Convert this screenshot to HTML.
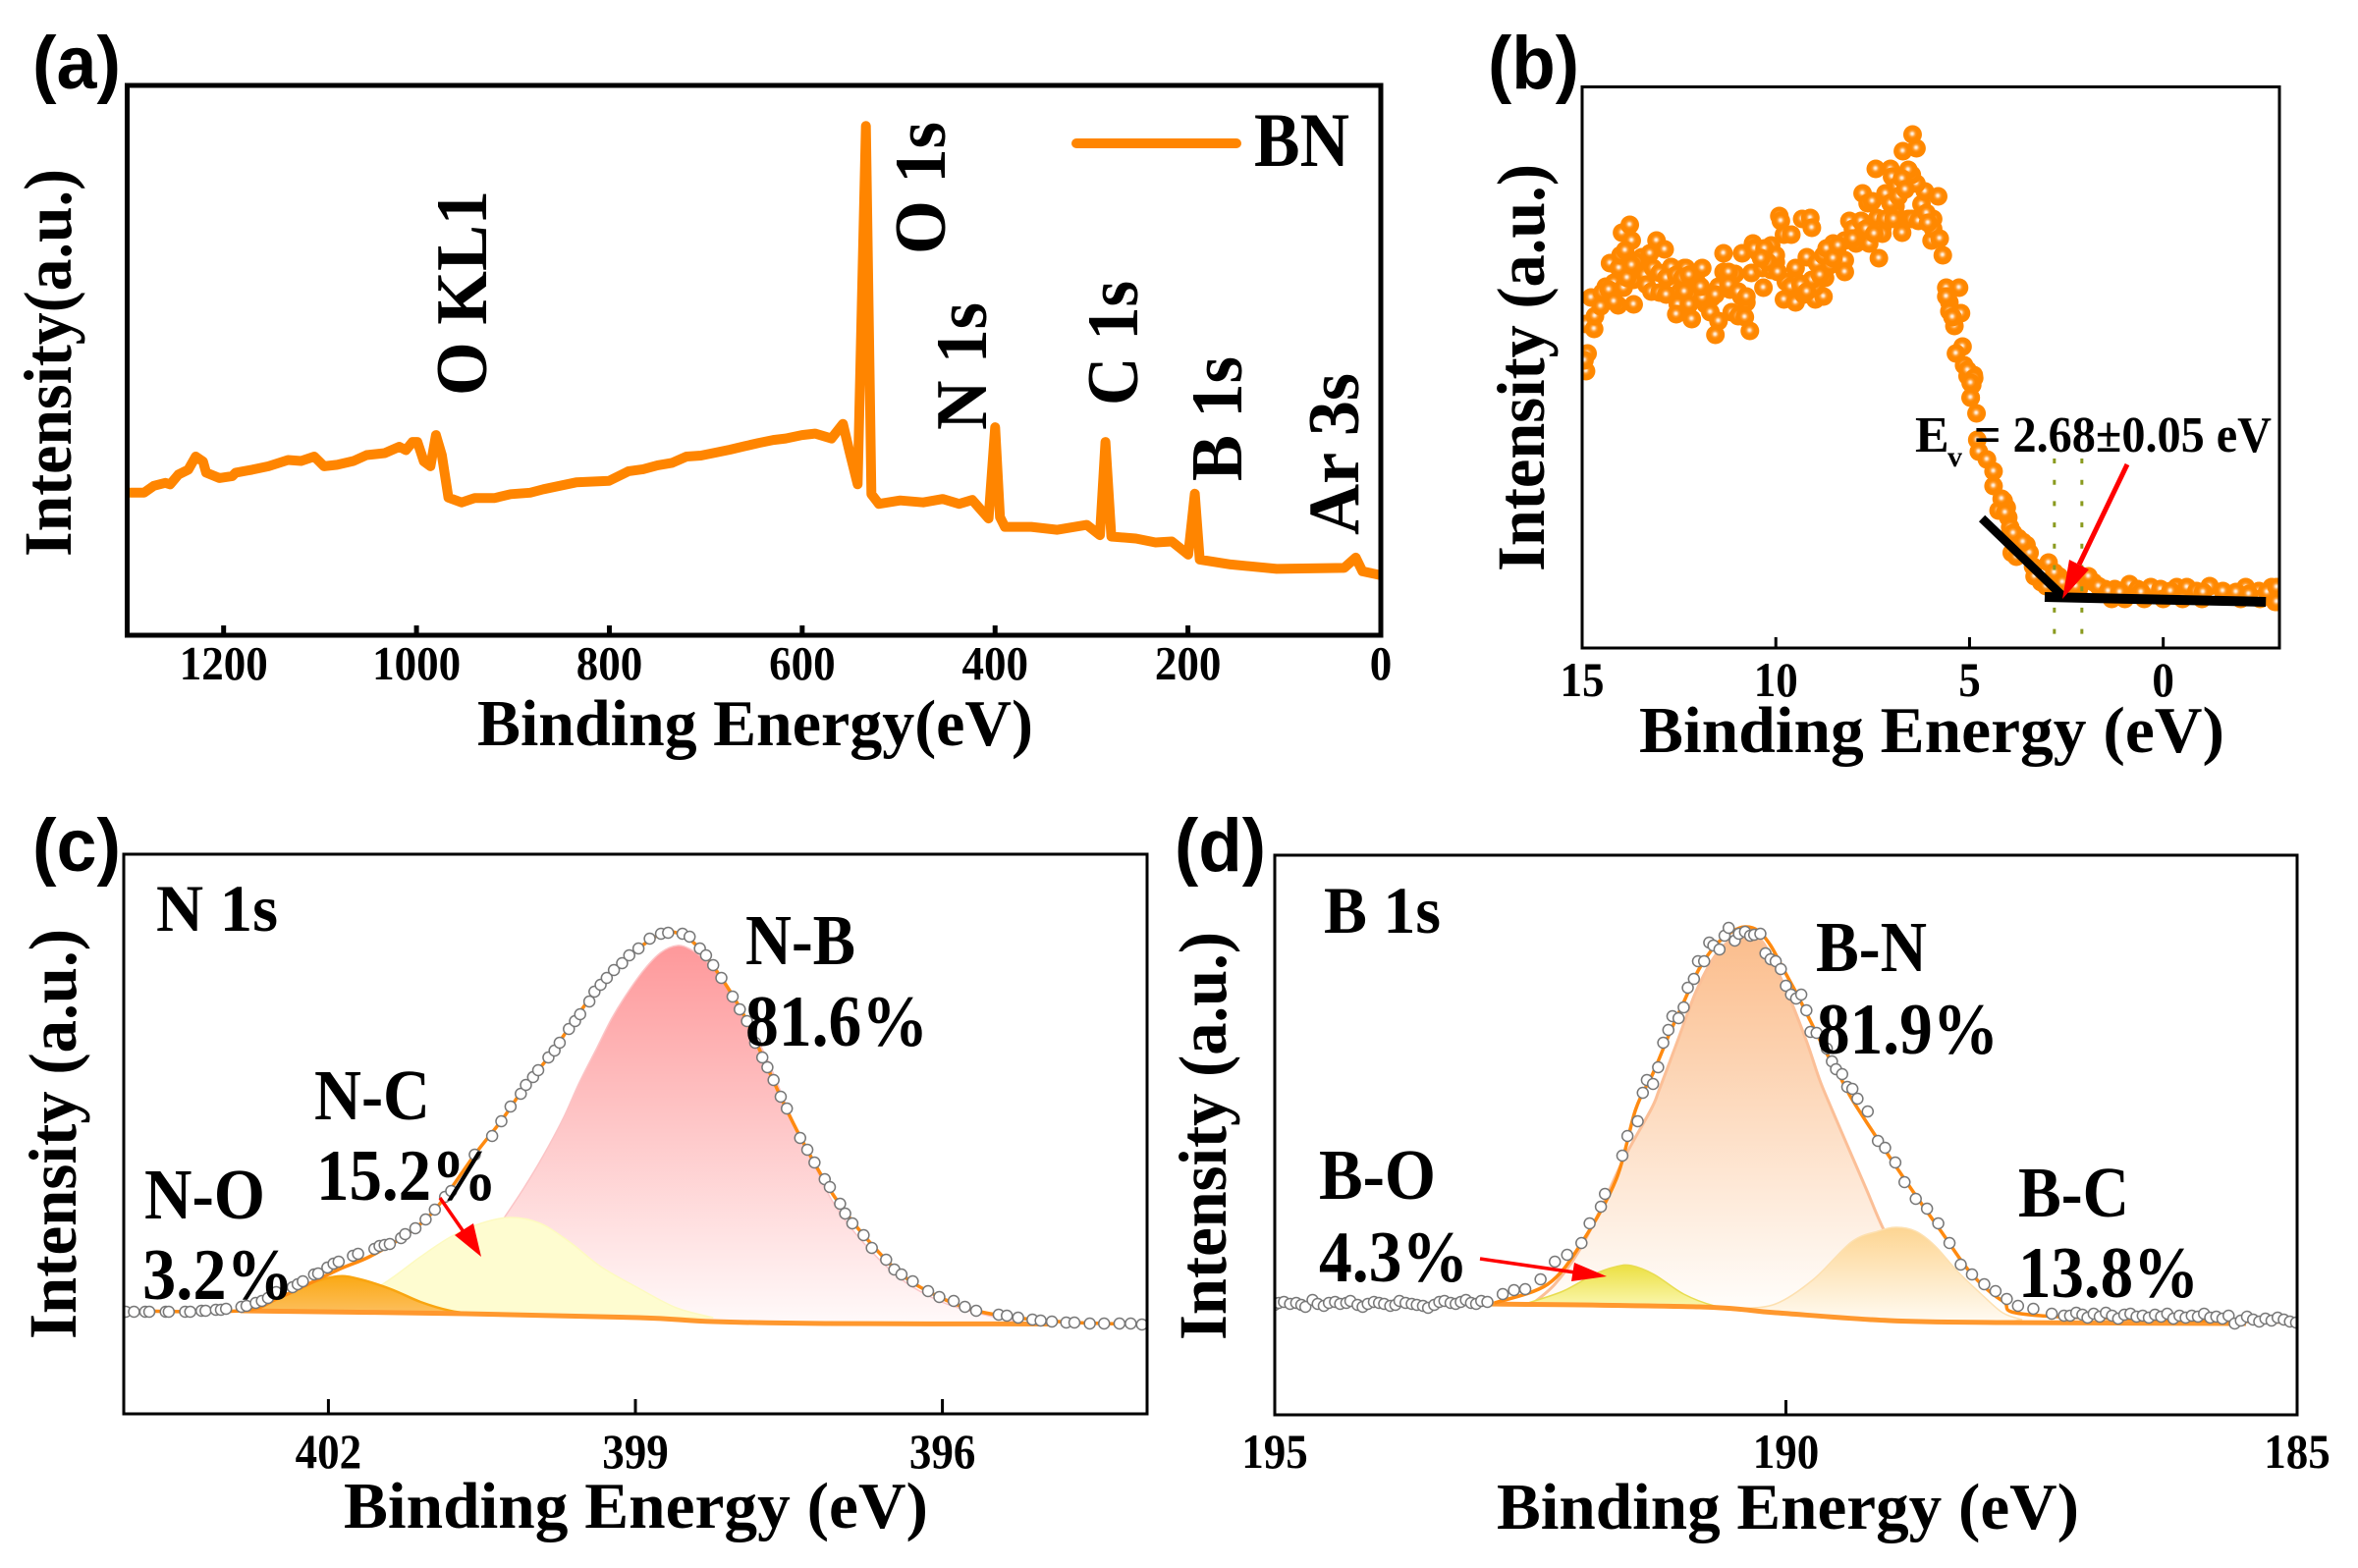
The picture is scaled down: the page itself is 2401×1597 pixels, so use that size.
<!DOCTYPE html>
<html>
<head>
<meta charset="utf-8">
<title>BN XPS spectra</title>
<style>
html,body{margin:0;padding:0;background:#fff;}
svg{display:block;}
.serif{font-family:"Liberation Serif","Noto Serif CJK SC",serif;font-weight:bold;fill:#000;}
.sans{font-family:"Liberation Sans","Noto Sans CJK SC",sans-serif;font-weight:bold;fill:#000;}
</style>
</head>
<body>
<svg id="chart" xmlns="http://www.w3.org/2000/svg" width="2401" height="1597" viewBox="0 0 2401 1597">
<defs>
  <clipPath id="clip-a"><rect x="129.5" y="87" width="1276.5" height="560"/></clipPath>
  <clipPath id="clip-b"><rect x="1611" y="88" width="710" height="572"/></clipPath>
  <clipPath id="clip-c"><rect x="126" y="870" width="1042" height="570"/></clipPath>
  <clipPath id="clip-d"><rect x="1298" y="871" width="1041" height="570"/></clipPath>
  <radialGradient id="dot-fill" cx="0.48" cy="0.46" r="0.52">
    <stop offset="0" stop-color="#fff6ec"/><stop offset="0.1" stop-color="#ffead4"/>
    <stop offset="0.32" stop-color="#ff9a2a"/><stop offset="0.5" stop-color="#ff8800"/><stop offset="1" stop-color="#ff8800"/>
  </radialGradient>
  <linearGradient id="grad-nb" gradientUnits="userSpaceOnUse" x1="0" y1="970" x2="0" y2="1350">
    <stop offset="0" stop-color="#fe9a9c"/><stop offset="1" stop-color="#fffafa"/>
  </linearGradient>
  <linearGradient id="grad-no" gradientUnits="userSpaceOnUse" x1="0" y1="1300" x2="0" y2="1340">
    <stop offset="0" stop-color="#fba915"/><stop offset="1" stop-color="#fcc062"/>
  </linearGradient>
  <linearGradient id="grad-bn" gradientUnits="userSpaceOnUse" x1="0" y1="952" x2="0" y2="1330">
    <stop offset="0" stop-color="#fbbd8c"/><stop offset="1" stop-color="#fffdfa"/>
  </linearGradient>
  <linearGradient id="grad-bc" gradientUnits="userSpaceOnUse" x1="0" y1="1250" x2="0" y2="1345">
    <stop offset="0" stop-color="#fdd592"/><stop offset="1" stop-color="#fffaf0"/>
  </linearGradient>
  <linearGradient id="grad-bo" gradientUnits="userSpaceOnUse" x1="0" y1="1289" x2="0" y2="1333">
    <stop offset="0" stop-color="#ece044"/><stop offset="1" stop-color="#fbf8b4"/>
  </linearGradient>
</defs>

<g id="panel-a"></g>
<g id="panel-b"></g>
<g id="panel-c"></g>
<g id="panel-d"></g>

<!-- panel letters -->
<text class="sans" x="33" y="90" font-size="76" textLength="90" lengthAdjust="spacingAndGlyphs">(a)</text>
<text class="sans" x="1515" y="90" font-size="76" textLength="93" lengthAdjust="spacingAndGlyphs">(b)</text>
<text class="sans" x="33" y="887" font-size="76" textLength="90" lengthAdjust="spacingAndGlyphs">(c)</text>
<text class="sans" x="1196" y="887" font-size="76" textLength="93" lengthAdjust="spacingAndGlyphs">(d)</text>

<!-- y axis titles -->
<text class="serif" transform="translate(72,567) rotate(-90)" font-size="69" textLength="395" lengthAdjust="spacingAndGlyphs">Intensity(a.u.)</text>
<text class="serif" transform="translate(1572,582) rotate(-90)" font-size="69" textLength="415" lengthAdjust="spacingAndGlyphs">Intensity (a.u.)</text>
<text class="serif" transform="translate(77,1364) rotate(-90)" font-size="69" textLength="418" lengthAdjust="spacingAndGlyphs">Intensity (a.u.)</text>
<text class="serif" transform="translate(1248,1365) rotate(-90)" font-size="69" textLength="416" lengthAdjust="spacingAndGlyphs">Intensity (a.u.)</text>

<!-- x axis titles -->
<text class="serif" x="486" y="759" font-size="67" textLength="566" lengthAdjust="spacingAndGlyphs">Binding Energy(eV)</text>
<text class="serif" x="1669" y="766" font-size="67" textLength="596" lengthAdjust="spacingAndGlyphs">Binding Energy (eV)</text>
<text class="serif" x="350" y="1556" font-size="67" textLength="595" lengthAdjust="spacingAndGlyphs">Binding Energy (eV)</text>
<text class="serif" x="1524" y="1557" font-size="67" textLength="593" lengthAdjust="spacingAndGlyphs">Binding Energy (eV)</text>

<!-- panel a annotations -->
<text class="serif" transform="translate(495,403) rotate(-90)" font-size="74" textLength="209" lengthAdjust="spacingAndGlyphs">O KL1</text>
<text class="serif" transform="translate(962,259) rotate(-90)" font-size="74" textLength="135" lengthAdjust="spacingAndGlyphs">O 1s</text>
<text class="serif" transform="translate(1004,438) rotate(-90)" font-size="74" textLength="130" lengthAdjust="spacingAndGlyphs">N 1s</text>
<text class="serif" transform="translate(1158,413) rotate(-90)" font-size="74" textLength="127" lengthAdjust="spacingAndGlyphs">C 1s</text>
<text class="serif" transform="translate(1264,490) rotate(-90)" font-size="74" textLength="127" lengthAdjust="spacingAndGlyphs">B 1s</text>
<text class="serif" transform="translate(1383,545) rotate(-90)" font-size="74" textLength="165" lengthAdjust="spacingAndGlyphs">Ar 3s</text>
<line x1="1096" y1="146" x2="1259" y2="146" stroke="#ff8500" stroke-width="10" stroke-linecap="round"/>
<text class="serif" x="1277" y="169" font-size="78" textLength="97" lengthAdjust="spacingAndGlyphs">BN</text>

<!-- panel b annotation -->
<text class="serif" x="1950" y="460" font-size="52">E</text>
<text class="serif" x="1983" y="475" font-size="30">v</text>
<text class="serif" x="2010" y="460" font-size="52" textLength="303" lengthAdjust="spacingAndGlyphs">= 2.68±0.05 eV</text>

<!-- panel c labels -->
<text class="serif" x="159" y="948" font-size="68" textLength="124" lengthAdjust="spacingAndGlyphs">N 1s</text>
<text class="serif" x="759" y="982" font-size="73" textLength="112" lengthAdjust="spacingAndGlyphs">N-B</text>
<text class="serif" x="759" y="1065" font-size="74" textLength="186" lengthAdjust="spacingAndGlyphs">81.6%</text>
<text class="serif" x="320" y="1140" font-size="73" textLength="118" lengthAdjust="spacingAndGlyphs">N-C</text>
<text class="serif" x="322" y="1222" font-size="74" textLength="184" lengthAdjust="spacingAndGlyphs">15.2%</text>
<text class="serif" x="147" y="1241" font-size="73" textLength="123" lengthAdjust="spacingAndGlyphs">N-O</text>
<text class="serif" x="145" y="1323" font-size="74" textLength="154" lengthAdjust="spacingAndGlyphs">3.2%</text>

<!-- panel d labels -->
<text class="serif" x="1348" y="950" font-size="68" textLength="119" lengthAdjust="spacingAndGlyphs">B 1s</text>
<text class="serif" x="1849" y="989" font-size="73" textLength="113" lengthAdjust="spacingAndGlyphs">B-N</text>
<text class="serif" x="1850" y="1073" font-size="74" textLength="185" lengthAdjust="spacingAndGlyphs">81.9%</text>
<text class="serif" x="1343" y="1221" font-size="73" textLength="119" lengthAdjust="spacingAndGlyphs">B-O</text>
<text class="serif" x="1343" y="1305" font-size="74" textLength="152" lengthAdjust="spacingAndGlyphs">4.3%</text>
<text class="serif" x="2055" y="1239" font-size="73" textLength="113" lengthAdjust="spacingAndGlyphs">B-C</text>
<text class="serif" x="2055" y="1321" font-size="74" textLength="184" lengthAdjust="spacingAndGlyphs">13.8%</text>

<!-- red arrows -->
<g>
  <line x1="2166" y1="473" x2="2117" y2="575" stroke="#ff0000" stroke-width="5"/>
  <polygon points="2100,610 2107,570 2127,580" fill="#ff0000"/>
</g>
<g>
  <line x1="448" y1="1220" x2="473" y2="1256" stroke="#ff0000" stroke-width="3.5"/>
  <polygon points="490,1280 463,1258 482,1246" fill="#ff0000"/>
</g>
<g>
  <line x1="1507" y1="1282" x2="1604" y2="1296" stroke="#ff0000" stroke-width="3.5"/>
  <polygon points="1636,1300 1600,1305 1603,1286" fill="#ff0000"/>
</g>
</svg>

<script>
/* ---------- Panel (a) survey spectrum ---------- */
const aEnergy = [1299.5,1282.6,1272.4,1260.5,1255.4,1246.9,1236.7,1228.9,1221.4,1218.1,1204.5,1190.9,1187.5,1170.5,1153.5,1133.2,1119.6,1106,1095.8,1082.3,1065.3,1051.7,1033,1017.8,1011,1004.2,999.1,992.3,985.5,979.8,973.7,966.9,953.3,939.7,919.3,902.4,882,868.4,851.5,834.5,800.5,780,765,750,735,720,705,690,675,660,645,630,617.2,600.2,586.7,569.7,557.8,551,542.5,534,528.3,520.5,498.4,474.6,454.3,437.3,423.7,406.8,399.9,394.9,389.8,362.6,335.5,304.9,291.3,285.6,279.5,254,233.6,216.7,199.7,192.9,187.8,155.6,108,38,26,19,0];
const aIntensity = [294,294,308,314,311,331,341,368,358,335,324,328,335,341,348,361,359,368,348,351,359,371,375,388,381,398,398,358,348,412,371,284,274,283,283,291,294,301,308,315,318,338,342,350,355,368,370,376,382,389,396,402,405,412,415,405,435,378,311,1045,291,271,278,274,281,271,279,241,428,244,224,224,218,228,207,398,204,200,192,194,167,292,157,147,138,140,161,133,125];
const aTicks = [1200,1000,800,600,400,200,0];

/* ---------- Panel (b) valence band ---------- */
const bEnergy = [
14.90,14.86,14.94,14.90,14.69,14.67,14.77,14.52,14.39,14.18,
14.28,14.05,13.93,14.07,13.67,13.97,13.77,13.72,14.01,13.89,
13.67,13.46,13.25,13.08,12.87,13.55,13.38,13.17,13.00,13.34,
13.21,13.00,12.70,12.70,12.36,12.32,11.90,12.03,12.49,12.53,
12.57,12.17,12.07,11.77,11.65,11.81,11.69,11.48,11.56,11.48,
11.18,11.35,11.05,11.22,11.35,10.87,10.89,10.76,11.14,10.97,
10.80,10.67,10.63,10.32,10.34,10.12,10.00,10.59,10.46,10.25,
10.12,10.00,9.91,9.87,9.79,9.60,9.32,9.11,9.07,9.74,
9.79,9.49,9.28,8.98,8.77,9.45,9.49,9.20,8.94,8.73,
8.98,9.07,8.52,8.60,8.22,8.39,8.22,8.22,8.60,8.10,
8.01,7.80,7.93,7.76,7.59,7.34,7.76,7.63,7.51,7.42,
7.38,7.25,7.25,7.17,7.04,7.00,6.87,6.91,6.91,6.74,
6.58,6.24,6.20,5.98,5.94,5.94,5.77,5.69,5.81,6.15,
6.37,6.49,6.58,6.72,6.37,6.47,5.60,5.27,5.52,5.52,
5.22,5.39,5.18,5.35,5.14,4.89,5.05,4.93,4.97,
14.48,14.31,14.18,13.84,13.59,13.72,12.83,12.57,12.41,12.24,
12.83,12.36,12.24,11.90,11.56,11.94,11.22,10.97,10.76,10.55,
10.29,10.21,9.95,10.38,9.62,9.36,9.20,8.86,8.77,8.69,
8.52,8.39,8.01,7.67,7.46,7.17,7.04,6.83,6.74,6.66,
6.96,6.49,6.32,6.11,6.07,5.60,5.44,5.05,
4.88,4.97,4.97,4.82,4.80,4.76,4.55,4.38,4.38,4.12,
4.04,4.25,4.00,3.95,3.74,3.53,3.91,3.45,3.36,3.15,
2.96,2.69,2.43,2.10,1.80,1.50,1.25,0.87,0.66,0.32,
0.07,-0.35,-0.61,-0.86,-1.20,-1.54,-2.13,-2.47,-2.80,-2.93,
1.33,0.99,0.49,2.18,-2.89,-2.50,-2.00,-1.00,0.00,-0.50,
4.17,4.08,3.87,3.62,3.79,3.32,3.02,2.81,2.60,2.26,
1.93,1.67,1.42,1.12,0.57,-0.19,-1.03,-1.88,-2.21,-2.68,
-2.93,-2.93];
const bIntensity = [
282,300,293,330,325,338,357,348,368,372,
392,387,367,349,350,423,431,415,400,405,
375,398,402,415,406,387,380,387,382,370,
363,362,368,388,387,387,387,372,362,350,
340,335,358,360,357,350,342,333,319,368,
365,383,381,383,402,402,358,352,342,338,
337,323,382,367,387,385,393,412,403,397,
410,400,440,435,421,421,437,438,428,373,
355,352,360,355,358,373,387,398,392,377,
368,375,412,403,415,400,395,383,390,435,
427,435,412,422,412,397,463,453,455,488,
438,428,422,463,488,480,470,450,442,423,
437,452,440,415,437,427,417,400,460,465,
473,482,487,506,509,523,367,367,352,343,
341,328,307,300,288,278,277,268,255,
362,365,353,377,393,390,377,380,377,380,
360,363,350,357,360,368,370,363,358,407,
407,393,383,397,368,370,363,380,400,407,
397,410,417,427,422,437,453,460,478,467,
437,437,435,443,433,358,337,283,
275,270,255,239,212,200,192,180,165,150,
143,140,133,123,112,105,97,97,83,67,
87,73,67,70,67,60,60,65,60,62,
60,62,62,58,63,58,62,58,62,53,
50,50,50,60,47,50,50,50,50,50,
152,138,117,108,93,73,63,77,67,63,
73,63,58,57,57,58,57,57,55,57,
62,47];
const bSlopeFitEnergy = [4.68,2.60];
const bSlopeFitIntensity = [132,53];
const bFlatFitEnergy = [3.06,-2.65];
const bFlatFitIntensity = [52,47];
const bGuideEnergy = [2.81,2.10];
const bTicks = [15,10,5,0];

/* ---------- Panel (c) N 1s ---------- */
const cDataEnergy = [
403.98,403.90,403.79,403.75,403.59,403.56,403.40,403.35,403.24,403.20,403.10,403.05,403.00,402.85,402.80,402.71,402.65,402.59,402.51,402.35,402.30,402.25,402.14,402.10,402.01,401.95,401.90,401.76,401.71,401.55,401.50,401.45,401.40,401.29,401.25,401.15,401.05,400.96,400.86,400.80,
400.57,400.40,400.31,400.22,400.12,400.07,400.00,399.95,399.85,399.79,399.74,399.65,399.59,399.54,399.45,399.40,399.34,399.28,399.21,399.13,399.06,398.97,398.86,398.75,398.68,398.54,398.47,398.37,398.31,398.24,398.16,398.05,397.98,397.91,397.83,397.76,397.71,397.65,397.58,397.52,397.39,397.32,397.25,397.15,397.10,397.00,396.95,396.88,396.77,396.69,396.55,396.47,396.40,396.29,396.14,396.03,395.89,395.78,395.67,395.45,395.37,395.26,395.12,395.04,394.93,394.79,394.71,394.56,394.42,394.27,394.16,394.05];
const cDataIntensity = [
104,104,104,104,104,104,104,104,105,105,106,106,107,109,110,113,115,118,124,129,132,135,142,143,149,153,155,161,163,168,171,172,173,179,183,189,198,208,221,227,
264,283,298,313,326,335,343,350,363,370,378,392,400,407,420,430,437,444,452,459,467,474,484,489,490,489,486,474,467,457,444,425,412,400,378,363,353,340,323,311,281,269,256,239,231,214,204,194,182,169,157,147,142,135,125,119,115,109,105,101,100,98,96,95,94,93,93,92,92,92,92,91];
const cFitEnergy = [404,402.86,402.49,402.2,401.9,401.6,401.29,401.05,400.86,400.57,400.3,400.07,399.85,399.63,399.41,399.19,398.97,398.75,398.6,398.4,398.16,397.94,397.72,397.5,397.28,397.06,396.77,396.4,396.03,395.67,395.2,394.7,394];
const cFitIntensity = [105,105,118,132,147,160,179,198,221,264,300,335,363,396,428,453,474,489,490,477,444,406,355,305,261,222,182,142,119,105,97,93,91];
const cBaseEnergy = [402.86,400.66,398.97,398.24,397.14,394.93];
const cBaseIntensity = [105,102,98,94,92,91.5];
const cNBEnergy = [400.28,400.09,399.90,399.71,399.55,399.39,399.23,399.07,398.91,398.75,398.59,398.46,398.33,398.16,397.94,397.72,397.50,397.28,397.06,396.77,396.40,396.03,395.67,395.23];
const cNBIntensity = [200,230,263,300,337,370,403,430,453,470,477,473,463,445,407,363,308,259,214,174,137,115,103,93];
const cNCEnergy = [401.98,401.47,401.10,400.81,400.51,400.22,399.93,399.63,399.34,398.97,398.60,398.24];
const cNCIntensity = [103,132,160,180,194,200,194,174,150,128,108,98];
const cNOEnergy = [402.86,402.49,402.20,401.91,401.69,401.39,401.10,400.81,400.59];
const cNOIntensity = [104,117,132,140,137,127,114,105,102];
const cTicks = [402,399,396];

/* ---------- Panel (d) B 1s ---------- */
const dDataEnergy = [
195.00,194.96,194.91,194.85,194.79,194.74,194.70,194.63,194.58,194.52,194.47,194.41,194.36,194.30,194.26,194.19,194.14,194.09,194.03,193.98,193.93,193.87,193.82,193.78,193.72,193.66,193.61,193.55,193.50,193.44,193.39,193.34,193.28,193.23,193.18,193.13,193.08,193.03,192.98,
192.92,192.77,192.66,192.55,192.40,192.26,192.14,192.00,191.92,191.81,191.77,191.60,191.55,191.45,
191.40,191.36,191.30,191.25,191.20,191.15,191.11,191.05,191.00,190.96,190.90,190.86,190.80,190.75,190.71,190.65,190.60,190.56,190.50,190.46,190.40,190.35,190.31,190.25,190.20,190.15,190.10,190.05,190.00,189.95,189.90,189.85,189.80,189.76,189.70,189.60,189.55,189.51,189.45,189.40,189.35,189.30,189.20,
189.10,189.03,188.93,188.84,188.73,188.62,188.51,188.40,188.29,188.18,188.06,187.95,187.84,187.73,187.58,187.40,187.28,
187.22,187.16,187.10,187.05,186.99,186.93,186.87,186.81,186.75,186.69,186.63,186.57,186.51,186.45,186.39,186.33,186.27,186.21,186.15,186.09,186.03,185.97,185.91,185.85,185.79,185.73,185.67,185.61,185.55,185.49,185.43,185.37,185.31,185.25,185.19,185.13,185.07,185.01];
const dDataIntensity = [
112,114,115,113,114,112,110,117,113,111,114,115,113,114,116,112,110,113,115,114,113,111,112,116,114,113,112,111,109,112,115,116,114,113,115,117,114,113,116,
115,123,127,128,138,156,163,175,195,212,225,264,284,299,
328,341,337,354,379,392,406,404,415,435,444,462,462,481,478,474,488,496,483,490,492,488,489,490,470,464,462,454,437,428,424,428,412,390,389,373,360,352,347,334,332,322,309,
279,272,257,237,220,210,195,175,153,143,133,126,118,111,108,103,101,
101,104,102,99,103,100,104,101,98,102,103,100,101,99,102,100,103,98,101,99,101,100,103,99,100,98,101,93,96,100,97,95,98,96,99,97,95,94];
const dFitEnergy = [192.85,192.33,192.00,191.66,191.47,191.30,191.14,191.01,190.85,190.69,190.53,190.40,190.27,190.15,190.02,189.89,189.76,189.60,189.47,189.31,188.84,188.47,188.18,187.88,187.51,185];
const dFitIntensity = [114,133,175,240,311,348,388,418,454,478,492,497,493,478,453,428,401,368,344,314,240,185,143,116,101,94];
const dBaseEnergy = [192.92,190.85,190.10,188.99,187.88,185.5];
const dBaseIntensity = [113,110,104,96,94,93];
const dBNEnergy = [192.48,192.26,192.03,191.81,191.59,191.32,191.24,191.07,190.88,190.69,190.53,190.40,190.24,190.11,189.95,189.79,189.67,189.55,189.36,189.21,189.05,188.84,188.62,188.25];
const dBNIntensity = [113,133,166,210,260,311,331,378,431,468,484,489,483,458,421,378,341,311,265,229,190,151,121,101];
const dBCEnergy = [190.47,190.10,189.73,189.36,189.10,188.92,188.73,188.55,188.32,188.10,187.88,187.69];
const dBCIntensity = [108,113,138,176,187,191,187,173,146,124,104,97];
const dBOEnergy = [192.55,192.18,191.88,191.66,191.51,191.29,191.00,190.70,190.47];
const dBOIntensity = [113,126,143,151,152,143,123,111,108];
const dTicks = [195,190,185];

/* ---------- helpers ---------- */
const NS = 'http://www.w3.org/2000/svg';
function make(tag, attrs, parent) {
  const node = document.createElementNS(NS, tag);
  for (const k in attrs) node.setAttribute(k, attrs[k]);
  parent.appendChild(node);
  return node;
}
function linear(d0, d1, r0, r1) {
  return function (v) { return r0 + (v - d0) / (d1 - d0) * (r1 - r0); };
}
function polyPath(xs, ys, sx, sy) {
  return xs.map(function (x, i) { return (i ? 'L' : 'M') + sx(x).toFixed(1) + ' ' + sy(ys[i]).toFixed(1); }).join(' ');
}
function smoothPath(xs, ys, sx, sy) {
  const p = xs.map(function (x, i) { return [sx(x), sy(ys[i])]; });
  let d = 'M' + p[0][0].toFixed(1) + ' ' + p[0][1].toFixed(1);
  for (let i = 0; i < p.length - 1; i++) {
    const a = p[Math.max(i - 1, 0)], b = p[i], c = p[i + 1], e = p[Math.min(i + 2, p.length - 1)];
    d += ' C' + (b[0] + (c[0] - a[0]) / 6).toFixed(1) + ' ' + (b[1] + (c[1] - a[1]) / 6).toFixed(1) +
         ' ' + (c[0] - (e[0] - b[0]) / 6).toFixed(1) + ' ' + (c[1] - (e[1] - b[1]) / 6).toFixed(1) +
         ' ' + c[0].toFixed(1) + ' ' + c[1].toFixed(1);
  }
  return d;
}
function areaPath(xs, ys, baseX, baseY, sx, sy) {
  let d = smoothPath(xs, ys, sx, sy);
  const hi = xs[0], lo = xs[xs.length - 1];
  for (let i = baseX.length - 1; i >= 0; i--) {
    if (baseX[i] < hi && baseX[i] > lo) d += ' L' + sx(baseX[i]).toFixed(1) + ' ' + sy(baseY[i]).toFixed(1);
  }
  return d + ' Z';
}
function drawAxes(panel, box, ticks, sx, tickLen, frameWidth, tickWidth, baseline, fontSize) {
  const frame = make('rect', {x: box.x0, y: box.y0, width: box.x1 - box.x0, height: box.y1 - box.y0, fill: 'none', stroke: '#000', 'stroke-width': frameWidth}, panel);
  
  
  ticks.forEach(function (t) {
    const tick = make('line', {x1: sx(t), x2: sx(t), y1: box.y1, y2: box.y1 - tickLen, stroke: '#000', 'stroke-width': tickWidth}, panel);
    
    
    const text = String(t);
    const label = make('text', {x: sx(t), y: baseline, 'text-anchor': 'middle', 'font-size': fontSize, 'class': 'serif', textLength: text.length * 22.5, lengthAdjust: 'spacingAndGlyphs'}, panel);
    label.textContent = text;
    
    
  });
}

/* ---------- panel a ---------- */
(function () {
  const panel = document.getElementById('panel-a');
  const box = {x0: 129.5, x1: 1406, y0: 87, y1: 647};
  const sx = linear(1300, 0, box.x0, box.x1);
  const sy = linear(0, 1128, 648, box.y0);
  const line = make('path', {d: polyPath(aEnergy, aIntensity, sx, sy), fill: 'none', stroke: '#ff8500', 'stroke-width': 10, 'stroke-linejoin': 'round', 'clip-path': 'url(#clip-a)'}, panel);
  
  
  drawAxes(panel, box, aTicks, sx, 10, 5, 5, 692, 49);
})();

/* ---------- panel b ---------- */
(function () {
  const panel = document.getElementById('panel-b');
  const box = {x0: 1611, x1: 2321, y0: 88.5, y1: 660};
  const sx = linear(15, -3, box.x0, box.x1);
  const sy = linear(0, 571.5, box.y1, box.y0);
  const dots = make('g', {'clip-path': 'url(#clip-b)'}, panel);
  
  
  bEnergy.forEach(function (e, i) {
    const c = make('circle', {cx: sx(e), cy: sy(bIntensity[i]), r: 9.5, fill: 'url(#dot-fill)'}, dots);
    
    
  });
  bGuideEnergy.forEach(function (e) {
    const g = make('line', {x1: sx(e), x2: sx(e), y1: 467, y2: 660, stroke: '#8a9a1e', 'stroke-width': 3, 'stroke-dasharray': '5 16.7'}, panel);
    
    
  });
  const fit1 = make('path', {d: polyPath(bSlopeFitEnergy, bSlopeFitIntensity, sx, sy), stroke: '#000', 'stroke-width': 9, fill: 'none'}, panel);
  
  
  const fit2 = make('path', {d: polyPath(bFlatFitEnergy, bFlatFitIntensity, sx, sy), stroke: '#000', 'stroke-width': 10, fill: 'none'}, panel);
  
  
  drawAxes(panel, box, bTicks, sx, 11, 3, 3, 709, 50);
})();

/* ---------- panel c ---------- */
(function () {
  const panel = document.getElementById('panel-c');
  const box = {x0: 126, x1: 1168, y0: 870, y1: 1440};
  const sx = linear(404, 394, box.x0, box.x1);
  const sy = linear(0, 570, box.y1, box.y0);
  const nb = make('path', {d: areaPath(cNBEnergy, cNBIntensity, cBaseEnergy, cBaseIntensity, sx, sy), fill: 'url(#grad-nb)', stroke: '#fbc4c6', 'stroke-width': 1.5}, panel);
  
  
  const nc = make('path', {d: areaPath(cNCEnergy, cNCIntensity, cBaseEnergy, cBaseIntensity, sx, sy), fill: '#fefcd0', stroke: '#fdfac0', 'stroke-width': 1.5}, panel);
  
  
  const no = make('path', {d: areaPath(cNOEnergy, cNOIntensity, cBaseEnergy, cBaseIntensity, sx, sy), fill: 'url(#grad-no)', stroke: '#f9a510', 'stroke-width': 2.5}, panel);
  
  
  const base = make('path', {d: smoothPath(cBaseEnergy, cBaseIntensity, sx, sy), fill: 'none', stroke: '#ff982e', 'stroke-width': 5}, panel);
  
  
  const fit = make('path', {d: smoothPath(cFitEnergy, cFitIntensity, sx, sy), fill: 'none', stroke: '#ff8a10', 'stroke-width': 3.5, 'clip-path': 'url(#clip-c)'}, panel);
  
  
  const dots = make('g', {'clip-path': 'url(#clip-c)'}, panel);
  
  
  cDataEnergy.forEach(function (e, i) {
    const c = make('circle', {cx: sx(e), cy: sy(cDataIntensity[i]), r: 5.5, fill: '#fff', stroke: '#777', 'stroke-width': 1.5}, dots);
    
    
  });
  drawAxes(panel, box, cTicks, sx, 15, 3, 3, 1495, 50);
})();

/* ---------- panel d ---------- */
(function () {
  const panel = document.getElementById('panel-d');
  const box = {x0: 1298, x1: 2339, y0: 871, y1: 1441};
  const sx = linear(195, 185, box.x0, box.x1);
  const sy = linear(0, 570, box.y1, box.y0);
  const bn = make('path', {d: areaPath(dBNEnergy, dBNIntensity, dBaseEnergy, dBaseIntensity, sx, sy), fill: 'url(#grad-bn)', stroke: '#fbbf97', 'stroke-width': 3}, panel);
  
  
  const bc = make('path', {d: areaPath(dBCEnergy, dBCIntensity, dBaseEnergy, dBaseIntensity, sx, sy), fill: 'url(#grad-bc)', stroke: '#fde0b0', 'stroke-width': 1.5}, panel);
  
  
  const bo = make('path', {d: areaPath(dBOEnergy, dBOIntensity, dBaseEnergy, dBaseIntensity, sx, sy), fill: 'url(#grad-bo)', stroke: '#e8dc50', 'stroke-width': 1.5}, panel);
  
  
  const base = make('path', {d: smoothPath(dBaseEnergy, dBaseIntensity, sx, sy), fill: 'none', stroke: '#ff982e', 'stroke-width': 5}, panel);
  
  
  const fit = make('path', {d: smoothPath(dFitEnergy, dFitIntensity, sx, sy), fill: 'none', stroke: '#ff8a10', 'stroke-width': 3.5, 'clip-path': 'url(#clip-d)'}, panel);
  
  
  const dots = make('g', {'clip-path': 'url(#clip-d)'}, panel);
  
  
  dDataEnergy.forEach(function (e, i) {
    const c = make('circle', {cx: sx(e), cy: sy(dDataIntensity[i]), r: 5.5, fill: '#fff', stroke: '#777', 'stroke-width': 1.5}, dots);
    
    
  });
  drawAxes(panel, box, dTicks, sx, 15, 3, 3, 1495, 50);
})();
</script>
</body>
</html>
